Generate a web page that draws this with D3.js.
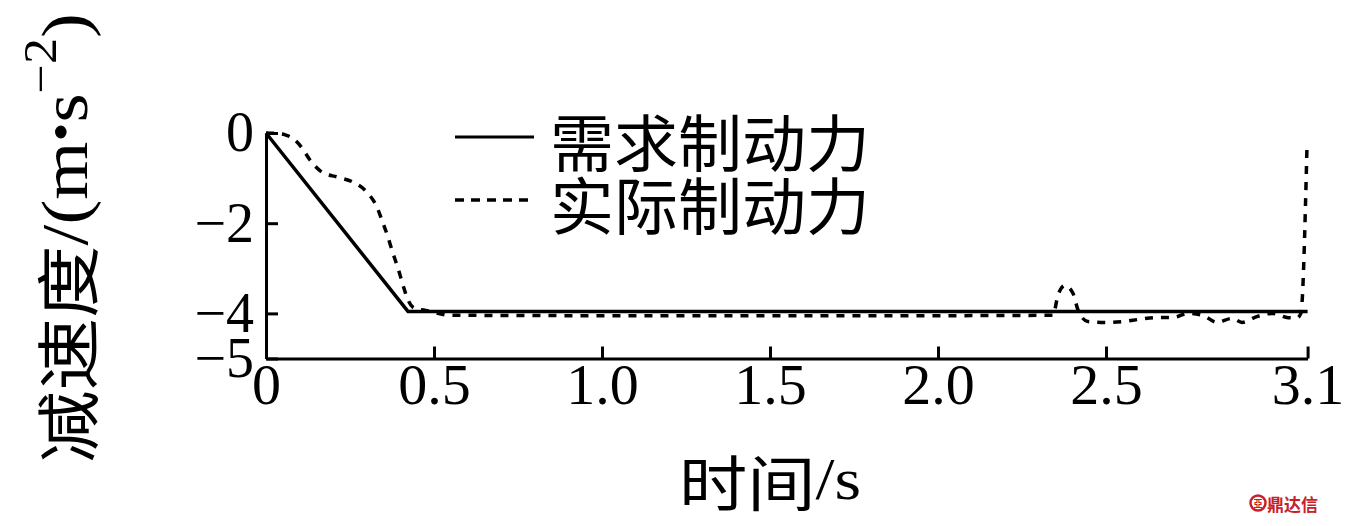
<!DOCTYPE html>
<html><head><meta charset="utf-8">
<script src="https://cdn.jsdelivr.net/npm/d3@7"></script>
<style>
html,body{margin:0;padding:0;background:#fff;}
svg{display:block;}
</style></head>
<body>
<svg id="chart" width="1352" height="526"></svg>
<script>
// ---- data ----
const xTickValues = [0, 0.5, 1.0, 1.5, 2.0, 2.5, 3.1];
const xTickLabels = ["0", "0.5", "1.0", "1.5", "2.0", "2.5", "3.1"];
const yTickValues = [0, -2, -4, -5];
const yTickLabels = ["0", "\u22122", "\u22124", "\u22125"];
const seriesNames = ["需求制动力", "实际制动力"];
const demandT = [0, 0.423, 3.1];
const demandV = [0, -3.96, -3.96];
const actualT = [0, 0.03, 0.057, 0.085, 0.107, 0.131, 0.167, 0.214, 0.259, 0.30, 0.33, 0.345, 0.363, 0.378, 0.393, 0.408, 0.423, 0.443, 0.473, 0.55, 1.0, 1.5, 2.0, 2.342, 2.357, 2.378, 2.402, 2.417, 2.446, 2.503, 2.551, 2.601, 2.652, 2.70, 2.744, 2.79, 2.83, 2.875, 2.905, 2.949, 2.997, 3.038, 3.068, 3.08, 3.098];
const actualV = [0, -0.01, -0.04, -0.15, -0.33, -0.6, -0.87, -0.98, -1.09, -1.31, -1.64, -1.93, -2.31, -2.67, -3.0, -3.38, -3.71, -3.89, -3.93, -4.04, -4.05, -4.05, -4.05, -4.04, -3.6, -3.38, -3.56, -3.93, -4.18, -4.2, -4.18, -4.13, -4.09, -4.09, -4.0, -4.05, -4.2, -4.11, -4.2, -4.07, -4.0, -4.09, -4.1, -4.0, -0.35];

const svg = d3.select("#chart");
const x = d3.scaleLinear().domain([0, 3.1]).range([266, 1307.6]);
const y = d3.scaleLinear().domain([-5, 0]).range([358.5, 133]);
const serif = "'Liberation Serif','Times New Roman',serif";
const cjk = "'Noto Sans CJK SC','Noto Sans CJK JP',sans-serif";

// axes
const gx = svg.append("g").attr("transform", `translate(0,${y(-5)})`)
  .call(d3.axisBottom(x).tickValues(xTickValues).tickFormat((d, i) => xTickLabels[i])
    .tickSize(-12).tickSizeOuter(0).tickPadding(4));
const gy = svg.append("g").attr("transform", `translate(${x(0)},0)`)
  .call(d3.axisLeft(y).tickValues(yTickValues).tickFormat((d, i) => yTickLabels[i])
    .tickSize(-12).tickSizeOuter(0).tickPadding(12));
[gx, gy].forEach(g => {
  g.select(".domain").attr("stroke", "#000").attr("stroke-width", 3);
  g.selectAll(".tick line").attr("stroke", "#000").attr("stroke-width", 3);
  g.selectAll(".tick text").attr("font-family", serif).attr("font-size", 58).attr("fill", "#000");
});
gy.selectAll(".tick text").attr("font-size", 56);

// lines
const line = d3.line().x(d => x(d[0])).y(d => y(d[1]));
svg.append("path").datum(demandT.map((t, i) => [t, demandV[i]]))
  .attr("d", line).attr("fill", "none").attr("stroke", "#000").attr("stroke-width", 3.5)
  .attr("stroke-linejoin", "round");
svg.append("path").datum(actualT.map((t, i) => [t, actualV[i]]))
  .attr("d", line.curve(d3.curveMonotoneX)).attr("fill", "none").attr("stroke", "#000")
  .attr("stroke-width", 3.5).attr("stroke-dasharray", "8,8");

// legend
const leg = svg.append("g");
leg.append("line").attr("x1", 455).attr("x2", 534).attr("y1", 137).attr("y2", 137)
  .attr("stroke", "#000").attr("stroke-width", 3);
leg.append("line").attr("x1", 455).attr("x2", 534).attr("y1", 200).attr("y2", 200)
  .attr("stroke", "#000").attr("stroke-width", 3.5).attr("stroke-dasharray", "9,7");
leg.selectAll("text.lg").data(seriesNames).enter().append("text")
  .attr("x", 550).attr("y", (d, i) => 140 + i * 63)
  .attr("dominant-baseline", "central")
  .attr("font-family", cjk).attr("font-size", 62).attr("fill", "#000")
  .attr("textLength", 320).attr("lengthAdjust", "spacingAndGlyphs").text(d => d);

// x title
const xt = svg.append("text").attr("x", 770).attr("y", 479).attr("text-anchor", "middle")
  .attr("dominant-baseline", "central").attr("font-size", 60).attr("fill", "#000")
  .attr("textLength", 182).attr("lengthAdjust", "spacingAndGlyphs");
xt.append("tspan").attr("font-family", cjk).text("时间");
xt.append("tspan").attr("font-family", serif).text("/s");

// y title
const yt = svg.append("text").attr("transform", "translate(64,238) rotate(-90)")
  .attr("text-anchor", "middle").attr("dominant-baseline", "central").attr("fill", "#000")
  .attr("textLength", 450).attr("lengthAdjust", "spacingAndGlyphs");
yt.append("tspan").attr("font-family", cjk).attr("font-size", 64).text("减速度");
yt.append("tspan").attr("font-family", serif).attr("font-size", 66).text("/(m");
yt.append("tspan").attr("font-family", serif).attr("font-size", 48).attr("dy", -4).text("\u2022");
yt.append("tspan").attr("font-family", serif).attr("font-size", 66).attr("dy", 4).text("s");
yt.append("tspan").attr("font-family", serif).attr("font-size", 46).attr("dy", -24).text("\u22122");
yt.append("tspan").attr("font-family", serif).attr("font-size", 66).attr("dy", 24).text(")");

// watermark
const wm = svg.append("g").attr("fill", "#c8202a");
wm.append("circle").attr("cx", 1258).attr("cy", 503).attr("r", 7.5).attr("fill", "none")
  .attr("stroke", "#c8202a").attr("stroke-width", 2.5);
wm.append("text").attr("x", 1258).attr("y", 503).attr("text-anchor", "middle")
  .attr("dominant-baseline", "central").attr("font-family", cjk).attr("font-size", 9)
  .attr("font-weight", "bold").text("亞");
wm.append("text").attr("x", 1267).attr("y", 503).attr("dominant-baseline", "central")
  .attr("font-family", cjk).attr("font-size", 17).attr("font-weight", "bold").text("鼎达信");
</script>
</body></html>
